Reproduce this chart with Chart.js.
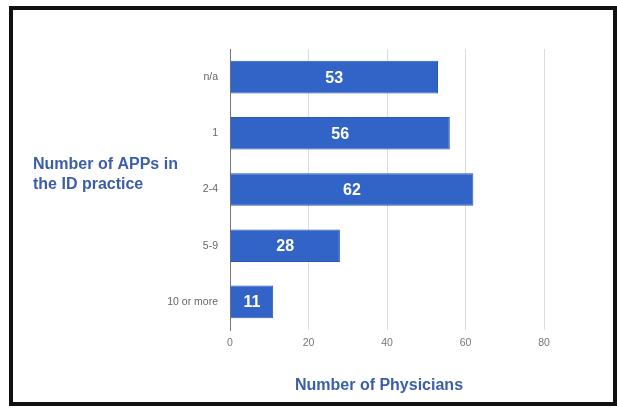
<!DOCTYPE html>
<html>
<head>
<meta charset="utf-8">
<script src="https://cdn.jsdelivr.net/npm/chart.js@4/dist/chart.umd.min.js"></script>
<style>
  body { margin: 0; background: #fff; }
  #frame { position: absolute; left: 9px; top: 6px; width: 600px; height: 392px; border: 4px solid #111; }
  #chart { position: absolute; left: 0; top: 0; }
</style>
</head>
<body>
<div id="frame"></div>
<canvas id="chart" width="617" height="409"></canvas>
<script>
var categories = ["n/a", "1", "2-4", "5-9", "10 or more"];
var physicians = [53, 56, 62, 28, 11];
var xTicks = [0, 20, 40, 60, 80];

var FONT = "Arial, 'Liberation Sans', sans-serif";
var TITLE_BLUE = "#3b5ea9";

// axis titles and bar labels drawn straight on the canvas
var annotations = {
  id: "annotations",
  afterDatasetsDraw: function(chart) {
    var ctx = chart.ctx;
    ctx.save();
    ctx.fillStyle = "#fff";
    ctx.font = "bold 16px " + FONT;
    ctx.textAlign = "center";
    ctx.textBaseline = "middle";
    chart.getDatasetMeta(0).data.forEach(function(bar, i) {
      ctx.fillText(String(physicians[i]), (bar.x + bar.base) / 2, bar.y + 1);
    });
    ctx.restore();
  },
  afterDraw: function(chart) {
    var ctx = chart.ctx;
    ctx.save();
    ctx.fillStyle = TITLE_BLUE;
    ctx.font = "bold 16px " + FONT;
    ctx.textBaseline = "alphabetic";
    ctx.textAlign = "left";
    ctx.fillText("Number of APPs in", 33, 169);
    ctx.fillText("the ID practice", 33, 189);
    ctx.textAlign = "center";
    ctx.fillText("Number of Physicians", 379, 390);
    ctx.restore();
  }
};

new Chart(document.getElementById("chart"), {
  type: "bar",
  data: {
    labels: categories,
    datasets: [{
      data: physicians,
      backgroundColor: "#3264c8",
      borderColor: "#2b58b5",
      borderWidth: 1,
      categoryPercentage: 1,
      barPercentage: 0.58
    }]
  },
  options: {
    indexAxis: "y",
    responsive: false,
    animation: false,
    layout: { padding: { top: 49, right: 73, left: 0, bottom: 0 } },
    plugins: {
      legend: { display: false },
      tooltip: { enabled: false }
    },
    scales: {
      x: {
        min: 0,
        max: 80,
        afterBuildTicks: function(scale) {
          scale.ticks = xTicks.map(function(v) { return { value: v }; });
        },
        afterFit: function(scale) { scale.height = 79; },
        grid: {
          drawTicks: false,
          color: function(c) { return c.tick && c.tick.value === 0 ? "rgba(0,0,0,0)" : "#dcdcdc"; }
        },
        border: { display: false },
        ticks: { padding: 7, color: "#777", font: { family: FONT, size: 10.5 } }
      },
      y: {
        afterFit: function(scale) { scale.width = 230; },
        grid: { display: false, drawTicks: false },
        border: { display: true, color: "#777", width: 1 },
        ticks: { padding: 12, color: "#666", font: { family: FONT, size: 10.5 } }
      }
    }
  },
  plugins: [annotations]
});
</script>
</body>
</html>
